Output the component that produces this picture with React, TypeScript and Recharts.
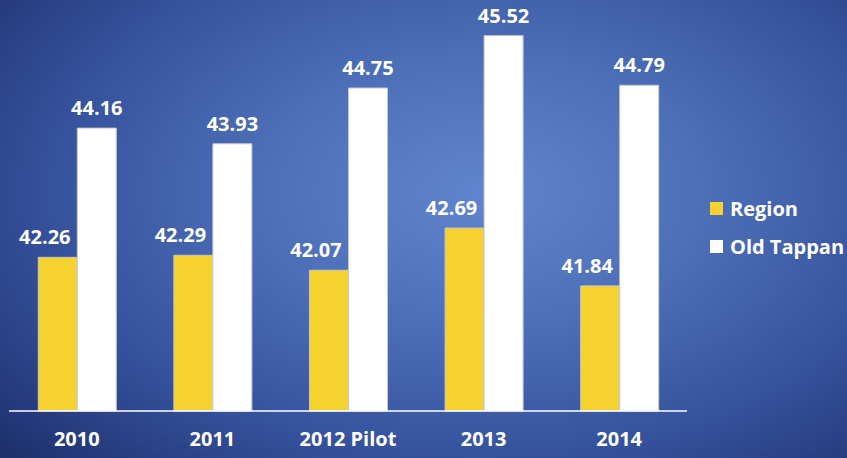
import React from 'react';
import { BarChart, Bar, XAxis, YAxis, LabelList } from 'recharts';

const years = ['2010', '2011', '2012 Pilot', '2013', '2014'];
const region = [42.26, 42.29, 42.07, 42.69, 41.84];
const oldTappan = [44.16, 43.93, 44.75, 45.52, 44.79];

const data = years.map((year, i) => ({
  year,
  region: region[i],
  oldTappan: oldTappan[i],
}));

const font = '"Open Sans", Lato, sans-serif';

// value label above a bar, optionally nudged sideways
const makeLabel = (shift: number) => (props: any) => {
  const { x, y, width, value } = props;
  return (
    <text
      x={Number(x) + Number(width) / 2 + shift}
      y={Number(y) - 13}
      textAnchor="middle"
      fill="#ffffff"
      fontSize={20}
      fontWeight={700}
      fontFamily={font}
    >
      {Number(value).toFixed(2)}
    </text>
  );
};

const LegendBox = () => (
  <div style={{ position: 'absolute', left: 710, top: 195, fontFamily: font, fontWeight: 700, fontSize: 20, color: '#fff' }}>
    {[
      { name: 'Region', color: '#f5d22f' },
      { name: 'Old Tappan', color: '#ffffff' },
    ].map((item) => (
      <div key={item.name} style={{ display: 'flex', alignItems: 'center', height: 26, marginBottom: 12 }}>
        <span style={{ width: 13, height: 13, background: item.color, marginRight: 7, display: 'inline-block' }} />
        <span>{item.name}</span>
      </div>
    ))}
  </div>
);

export default function App() {
  return (
    <div
      style={{
        position: 'absolute',
        left: 0,
        top: 0,
        width: 847,
        height: 458,
        overflow: 'hidden',
        background: 'radial-gradient(ellipse 75% 85% at 57% 42%, #6084cd 0%, #4d6fb8 35%, #34509a 70%, #1e316e 100%)',
      }}
    >
      <BarChart
        width={847}
        height={458}
        data={data}
        margin={{ top: 3, right: 160, bottom: 0, left: 9 }}
        barCategoryGap="21.6%"
        barGap={0}
      >
        <XAxis
          dataKey="year"
          height={47}
          axisLine={{ stroke: '#ffffff', strokeWidth: 1.5 }}
          tickLine={false}
          tick={{ fill: '#ffffff', fontSize: 20, fontWeight: 700, fontFamily: font }}
          tickMargin={15}
          interval={0}
        />
        <YAxis hide domain={[40, 46]} />
        <Bar dataKey="region" fill="#f5d22f" stroke="#c8c8c8" strokeWidth={1} isAnimationActive={false}>
          <LabelList dataKey="region" content={makeLabel(-13)} />
        </Bar>
        <Bar dataKey="oldTappan" fill="#ffffff" stroke="#c8c8c8" strokeWidth={1} isAnimationActive={false}>
          <LabelList dataKey="oldTappan" content={makeLabel(0)} />
        </Bar>
      </BarChart>
      <LegendBox />
    </div>
  );
}
